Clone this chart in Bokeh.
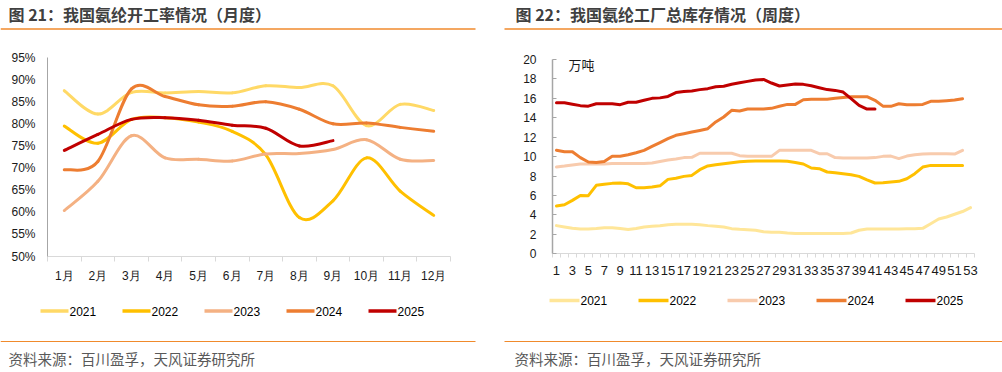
from bokeh.plotting import figure
from bokeh.layouts import row
from bokeh.models import Range1d, FixedTicker, NumeralTickFormatter, Label, Arrow, ColumnDataSource
from bokeh.embed import file_html
from bokeh.resources import INLINE

# ---------------- data ----------------
years = ["2021", "2022", "2023", "2024", "2025"]

months = ["1月", "2月", "3月", "4月", "5月", "6月", "7月", "8月", "9月", "10月", "11月", "12月"]
rate_2021 = [87.5, 82.2, 87.1, 87.0, 87.3, 87.0, 88.6, 88.2, 88.6, 79.6, 84.4, 83.0]
rate_2022 = [79.5, 75.6, 81.0, 81.4, 80.4, 78.3, 73.0, 58.8, 62.6, 72.3, 64.8, 59.3]
rate_2023 = [60.4, 67.0, 77.3, 72.3, 72.0, 71.6, 73.2, 73.3, 74.2, 76.4, 72.0, 71.7]
rate_2024 = [69.6, 71.5, 87.9, 86.2, 84.3, 84.0, 85.0, 83.3, 80.0, 80.2, 79.2, 78.3]
rate_2025 = [74.0, 77.6, 81.0, 81.4, 80.8, 79.7, 79.0, 75.0, 76.2]
rate_ticks = [50, 55, 60, 65, 70, 75, 80, 85, 90, 95]

weeks = list(range(1, 54))
week_ticks = list(range(1, 54, 2))
stock_2021 = [2.9, 2.76, 2.62, 2.55, 2.55, 2.6, 2.67, 2.67, 2.6, 2.5,
              2.6, 2.76, 2.83, 2.88, 3.0, 3.03, 3.03, 3.03, 3.0, 2.9,
              2.83, 2.76, 2.59, 2.52, 2.48, 2.42, 2.28, 2.21, 2.21, 2.14,
              2.1, 2.1, 2.1, 2.1, 2.1, 2.1, 2.1, 2.14, 2.42, 2.55,
              2.55, 2.55, 2.55, 2.55, 2.58, 2.58, 2.62, 3.1, 3.58, 3.79,
              4.07, 4.35, 4.75]
stock_2022 = [4.92, 5.05, 5.5, 6.0, 5.98, 7.05, 7.15, 7.25, 7.28, 7.2,
              6.8, 6.8, 6.87, 7.0, 7.66, 7.77, 7.97, 8.07, 8.66, 9.04,
              9.17, 9.28, 9.38, 9.48, 9.52, 9.55, 9.55, 9.55, 9.55, 9.52,
              9.4, 9.24, 8.83, 8.76, 8.42, 8.35, 8.25, 8.14, 7.97, 7.6,
              7.29, 7.32, 7.39, 7.46, 7.73, 8.25, 8.93, 9.1, 9.1, 9.1,
              9.1, 9.1]
stock_2023 = [8.93, 9.03, 9.15, 9.25, 9.25, 9.25, 9.25, 9.3, 9.3, 9.3,
              9.3, 9.3, 9.35, 9.5, 9.65, 9.75, 9.9, 9.93, 10.35, 10.35,
              10.35, 10.35, 10.35, 10.1, 10.03, 10.03, 10.05, 10.03, 10.65, 10.65,
              10.65, 10.65, 10.65, 10.3, 10.3, 9.9, 9.86, 9.86, 9.86, 9.86,
              9.9, 10.03, 10.06, 9.8, 10.06, 10.2, 10.27, 10.3, 10.3, 10.3,
              10.27, 10.65]
stock_2024 = [10.65, 10.5, 10.5, 9.9, 9.45, 9.4, 9.5, 10.05, 10.05, 10.2,
              10.4, 10.65, 11.05, 11.45, 11.85, 12.2, 12.36, 12.53, 12.7, 12.88,
              13.57, 14.08, 14.77, 14.7, 14.9, 14.9, 14.9, 14.97, 15.18, 15.38,
              15.38, 15.86, 15.9, 15.9, 15.9, 16.0, 16.1, 16.17, 16.17, 16.17,
              15.8, 15.2, 15.18, 15.45, 15.35, 15.35, 15.38, 15.7, 15.7, 15.76,
              15.83, 15.97]
stock_2025 = [15.55, 15.55, 15.4, 15.25, 15.2, 15.45, 15.45, 15.45, 15.35, 15.6,
              15.6, 15.8, 16.0, 16.05, 16.2, 16.6, 16.7, 16.75, 16.9, 17.0,
              17.2, 17.25, 17.45, 17.6, 17.75, 17.9, 17.95, 17.58, 17.27, 17.37,
              17.47, 17.44, 17.3, 17.1, 16.9, 16.82, 16.65, 15.97, 15.28, 14.9,
              14.9]
stock_ticks = [0, 2, 4, 6, 8, 10, 12, 14, 16, 18, 20]

left_colors = ["#FFD966", "#FFC000", "#F4B183", "#ED7D31", "#C00000"]
right_colors = ["#FFE699", "#FFC000", "#F8CBAD", "#ED7D31", "#C00000"]

title_left = "图 21：我国氨纶开工率情况（月度）"
title_right = "图 22：我国氨纶工厂总库存情况（周度）"
source_text = "资料来源：百川盈孚，天风证券研究所"
unit_text = "万吨"

# ---------------- styles ----------------
W, H = 501, 372
NUM_FONT = "Liberation Sans"
CJK_FONT = "Noto Sans CJK SC"
RULE_COLOR = "#F08A2C"


def lin_range(va, pa, vb, pb, total, flip=False):
    k = (vb - va) / (pb - pa)
    lo, hi = va + (0 - pa) * k, va + (total - pa) * k
    return Range1d(hi, lo) if flip else Range1d(lo, hi)


def smooth_source(xs, ys):
    n = len(xs)
    d = dict(x0=[], y0=[], x1=[], y1=[], cx0=[], cy0=[], cx1=[], cy1=[])
    for i in range(n - 1):
        xp, yp = (xs[i - 1], ys[i - 1]) if i > 0 else (xs[i], ys[i])
        xn, yn = (xs[i + 2], ys[i + 2]) if i + 2 < n else (xs[i + 1], ys[i + 1])
        d["x0"].append(xs[i]); d["y0"].append(ys[i])
        d["x1"].append(xs[i + 1]); d["y1"].append(ys[i + 1])
        d["cx0"].append(xs[i] + (xs[i + 1] - xp) / 6.0)
        d["cy0"].append(ys[i] + (ys[i + 1] - yp) / 6.0)
        d["cx1"].append(xs[i + 1] - (xn - xs[i]) / 6.0)
        d["cy1"].append(ys[i + 1] - (yn - ys[i]) / 6.0)
    return ColumnDataSource(d)


def add_text(p, ox, x, y, text, size, color, font, style="normal"):
    p.add_layout(Label(x=x - ox, y=H - y, x_units="screen", y_units="screen",
                       text=text, text_font_size=size, text_color=color,
                       text_font=font, text_font_style=style,
                       text_baseline="middle", text_align="left"))


def add_rule(p, ox, xa, xb, y, color, width):
    p.add_layout(Arrow(x_start=xa - ox, y_start=H - y, x_end=xb - ox, y_end=H - y,
                       start_units="screen", end_units="screen", start=None, end=None,
                       line_color=color, line_width=width, line_cap="butt"))


def base_fig(xr, yr):
    p = figure(width=W, height=H, x_range=xr, y_range=yr,
               output_backend="svg", toolbar_location=None, min_border=0)
    p.min_border_left = p.min_border_right = p.min_border_top = p.min_border_bottom = 0
    p.outline_line_color = None
    p.grid.visible = False
    p.background_fill_color = "white"
    p.border_fill_color = "white"
    for ax in (p.xaxis[0], p.yaxis[0]):
        ax.major_label_text_font = NUM_FONT
        ax.major_label_text_font_size = "12px"
        ax.major_label_text_color = "#1A1A1A"
    return p


# ---------------- left chart (page x origin 0) ----------------
OX1 = 0
p1 = base_fig(lin_range(0.5, 47, 12.5, 450, W), lin_range(0.95, 57, 0.50, 256, H, flip=True))
month_x = list(range(1, len(months) + 1))
p1.xaxis.fixed_location = 0.50
p1.xaxis.bounds = (0.5, len(months) + 0.5)
p1.yaxis.fixed_location = 0.5
p1.yaxis.bounds = (0.50, 0.95)
p1.xaxis.ticker = FixedTicker(ticks=month_x, minor_ticks=[m - 0.5 for m in month_x] + [len(months) + 0.5])
p1.xaxis.major_label_overrides = {m: lab for m, lab in zip(month_x, months)}
p1.xaxis.major_tick_line_color = None
p1.xaxis.major_tick_out = 0
p1.xaxis.major_tick_in = 0
p1.xaxis.minor_tick_line_color = "#D9D9D9"
p1.xaxis.minor_tick_out = 5
p1.xaxis.minor_tick_in = 0
p1.xaxis.axis_line_color = "#D9D9D9"
p1.xaxis.major_label_standoff = 7
p1.yaxis.ticker = FixedTicker(ticks=[t / 100 for t in rate_ticks])
p1.yaxis.formatter = NumeralTickFormatter(format="0%")
p1.yaxis.axis_line_color = "#A6A6A6"
p1.yaxis.major_tick_line_color = None
p1.yaxis.major_tick_out = 0
p1.yaxis.major_tick_in = 0
p1.yaxis.minor_tick_line_color = None
p1.yaxis.major_label_standoff = 12

for vals, col in zip([rate_2021, rate_2022, rate_2023, rate_2024, rate_2025], left_colors):
    src = smooth_source(month_x[:len(vals)], [v / 100 for v in vals])
    p1.bezier(x0="x0", y0="y0", x1="x1", y1="y1", cx0="cx0", cy0="cy0", cx1="cx1", cy1="cy1",
              source=src, line_color=col, line_width=3, line_cap="round")

add_text(p1, OX1, 8, 13.5, title_left, "16px", "#404040", CJK_FONT, "bold")
add_rule(p1, OX1, 0, 475, 28.5, RULE_COLOR, 1.5)
for i, (yr, col) in enumerate(zip(years, left_colors)):
    x0 = 40 + i * 82
    add_rule(p1, OX1, x0, x0 + 28, 310.5, col, 3.5)
    add_text(p1, OX1, x0 + 29, 310.5, yr, "12px", "#000000", NUM_FONT)
add_rule(p1, OX1, 0, 475, 341, RULE_COLOR, 1.2)
add_text(p1, OX1, 8, 358, source_text, "14.5px", "#595959", CJK_FONT)

# ---------------- right chart (page x origin 501) ----------------
OX2 = 501
p2 = base_fig(lin_range(0.5, 552 - OX2, len(weeks) + 0.5, 974 - OX2, W),
              lin_range(20, 59, 0, 253.3, H, flip=True))
p2.xaxis.fixed_location = 0
p2.xaxis.bounds = (0.5, len(weeks) + 0.5)
p2.yaxis.fixed_location = 0.5
p2.yaxis.bounds = (0, 20)
p2.xaxis.ticker = FixedTicker(ticks=week_ticks, minor_ticks=[w - 0.5 for w in weeks] + [len(weeks) + 0.5])
p2.xaxis.major_tick_line_color = None
p2.xaxis.major_tick_out = 0
p2.xaxis.major_tick_in = 0
p2.xaxis.minor_tick_line_color = "#D9D9D9"
p2.xaxis.minor_tick_out = 4
p2.xaxis.minor_tick_in = 0
p2.xaxis.axis_line_color = "#D9D9D9"
p2.xaxis.major_label_standoff = 8
p2.xaxis.major_label_text_font_size = "13px"
p2.yaxis.ticker = FixedTicker(ticks=stock_ticks)
p2.yaxis.axis_line_color = "#A6A6A6"
p2.yaxis.axis_line_width = 1.5
p2.yaxis.major_tick_line_color = "#A6A6A6"
p2.yaxis.major_tick_out = 0
p2.yaxis.major_tick_in = 4
p2.yaxis.minor_tick_line_color = None
p2.yaxis.major_label_standoff = 16

for vals, col in zip([stock_2021, stock_2022, stock_2023, stock_2024, stock_2025], right_colors):
    p2.line(weeks[:len(vals)], vals, line_color=col, line_width=3, line_join="round", line_cap="round")

add_text(p2, OX2, 515, 13.5, title_right, "16px", "#404040", CJK_FONT, "bold")
add_rule(p2, OX2, 504, 1002, 28.5, RULE_COLOR, 1.5)
add_text(p2, OX2, 568, 64, unit_text, "13px", "#1A1A1A", CJK_FONT)
for i, (yr, col) in enumerate(zip(years, right_colors)):
    x0 = 549 + i * 89
    add_rule(p2, OX2, x0, x0 + 30, 300, col, 3.5)
    add_text(p2, OX2, x0 + 31, 300, yr, "12px", "#000000", NUM_FONT)
add_rule(p2, OX2, 504, 1002, 341, RULE_COLOR, 1.2)
add_text(p2, OX2, 514, 358, source_text, "14.5px", "#595959", CJK_FONT)

layout = row(p1, p2, spacing=0)
open("out.html", "w").write(file_html(layout, INLINE))
